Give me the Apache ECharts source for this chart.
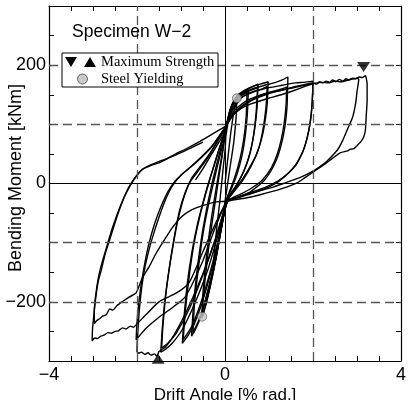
<!DOCTYPE html>
<html>
<head>
<meta charset="utf-8">
<script src="https://cdn.jsdelivr.net/npm/echarts@6/dist/echarts.min.js"></script>
<style>
  html, body { margin: 0; padding: 0; background: #fff; }
  #chart { width: 409px; height: 410px; }
</style>
</head>
<body>
<div id="chart"></div>
<script>
// Drift angle [% rad.] vs bending moment [kNm], one array per loading cycle
const loop025 = [
  [0,0],[0.06,40],[0.13,85],[0.2,120],[0.27,144],[0.25,110],[0.2,70],[0.12,30],[0.04,-10],
  [-0.04,-50],[-0.12,-90],[-0.2,-125],[-0.27,-150],[-0.24,-115],[-0.18,-70],[-0.11,-25],
  [-0.05,20],[0,55],[0.02,80]
];
const loop050a = [
  [0.02,80],[0.1,115],[0.2,138],[0.32,148],[0.43,155],[0.53,158],[0.51,120],[0.46,80],
  [0.38,45],[0.27,15],[0.14,-10],[0.04,-26],[-0.06,-65],[-0.17,-110],[-0.29,-158],
  [-0.41,-198],[-0.52,-228],[-0.49,-190],[-0.42,-140],[-0.34,-90],[-0.25,-45],[-0.16,0],
  [-0.07,45],[0.01,88]
];
const loop050b = [
  [0.01,88],[0.1,118],[0.22,138],[0.35,148],[0.5,154],[0.48,112],[0.42,72],[0.33,38],
  [0.22,10],[0.1,-14],[0.03,-28],[-0.08,-75],[-0.2,-125],[-0.33,-172],[-0.45,-208],
  [-0.53,-226],[-0.5,-185],[-0.43,-130],[-0.35,-80],[-0.26,-35],[-0.16,10],[-0.06,52],[0.02,92]
];
const loop075a = [
  [0.02,92],[0.12,125],[0.25,145],[0.4,154],[0.58,162],[0.75,168],[0.73,130],[0.67,90],
  [0.58,55],[0.45,25],[0.28,0],[0.12,-18],[0.04,-29],[-0.08,-75],[-0.22,-130],[-0.38,-180],
  [-0.55,-225],[-0.68,-248],[-0.76,-258],[-0.72,-210],[-0.64,-150],[-0.54,-95],[-0.43,-48],
  [-0.31,-5],[-0.18,35],[-0.06,70],[0.02,94]
];
const loop075b = [
  [0.02,94],[0.15,128],[0.32,146],[0.52,155],[0.74,162],[0.71,122],[0.65,82],[0.55,46],
  [0.4,16],[0.22,-8],[0.08,-24],[0.03,-30],[-0.1,-82],[-0.26,-140],[-0.44,-195],[-0.6,-232],
  [-0.73,-252],[-0.69,-200],[-0.6,-140],[-0.5,-85],[-0.38,-38],[-0.25,5],[-0.12,45],[0,80],[0.03,95]
];
const loop100a = [
  [0.03,95],[0.13,128],[0.27,148],[0.45,158],[0.7,166],[0.85,169],[0.98,172],[0.96,135],
  [0.9,100],[0.83,75],[0.72,50],[0.58,30],[0.4,8],[0.22,-10],[0.05,-30],[-0.1,-80],
  [-0.28,-138],[-0.48,-192],[-0.7,-238],[-0.85,-258],[-0.97,-270],[-0.93,-225],[-0.85,-165],
  [-0.75,-115],[-0.63,-70],[-0.5,-32],[-0.38,0],[-0.25,30],[-0.1,65],[0.02,95]
];
const loop100b = [
  [0.02,95],[0.18,128],[0.38,146],[0.62,155],[0.85,160],[0.96,164],[0.93,128],[0.86,90],
  [0.76,58],[0.6,30],[0.4,5],[0.2,-14],[0.05,-30],[-0.12,-85],[-0.32,-145],[-0.55,-202],
  [-0.76,-242],[-0.95,-264],[-0.9,-215],[-0.81,-155],[-0.7,-100],[-0.57,-55],[-0.44,-18],
  [-0.3,18],[-0.15,55],[0,88],[0.02,96]
];
const loop150a = [
  [0.02,96],[0.12,125],[0.27,146],[0.55,158],[0.85,165],[1.15,171],[1.3,175],[1.43,180],
  [1.42,155],[1.41,130],[1.37,100],[1.32,79],[1.25,58],[1.17,40],[1.05,22],[0.9,6],
  [0.72,-6],[0.53,-16],[0.3,-23],[0.06,-30],[-0.16,-88],[-0.4,-148],[-0.7,-205],[-0.98,-248],
  [-1.2,-270],[-1.35,-280],[-1.46,-285],[-1.43,-250],[-1.37,-200],[-1.28,-150],[-1.18,-105],
  [-1.08,-65],[-0.97,-32],[-0.86,-8],[-0.75,10],[-0.6,25],[-0.4,45],[-0.2,68],[0.02,95]
];
const loop150b = [
  [0.02,95],[0.2,122],[0.45,138],[0.75,148],[1.05,155],[1.25,159],[1.4,163],[1.39,135],
  [1.35,105],[1.28,75],[1.18,48],[1.05,26],[0.85,6],[0.6,-8],[0.35,-18],[0.15,-25],[0.05,-30],
  [-0.2,-90],[-0.48,-150],[-0.8,-210],[-1.1,-252],[-1.3,-270],[-1.44,-278],[-1.41,-240],
  [-1.34,-185],[-1.24,-130],[-1.14,-85],[-1.04,-48],[-0.92,-18],[-0.8,2],[-0.62,20],
  [-0.35,48],[-0.12,78],[0.02,96]
];
const loop200a = [
  [0.02,96],[0.18,125],[0.38,145],[0.7,156],[1,162],[1.3,166],[1.6,170],[1.8,171],[2,173],
  [1.99,150],[1.97,125],[1.93,100],[1.87,78],[1.8,60],[1.73,48],[1.62,32],[1.5,22],[1.36,12],
  [1.15,0],[0.9,-9],[0.6,-17],[0.3,-24],[0.06,-31],[-0.2,-90],[-0.5,-152],[-0.85,-212],
  [-1.15,-255],[-1.35,-276],[-1.5,-284],[-1.55,-292],[-1.6,-288],[-1.68,-290],[-1.75,-286],
  [-1.82,-289],[-1.9,-285],[-1.96,-287],[-2,-284],[-1.98,-250],[-1.93,-200],[-1.84,-150],
  [-1.72,-110],[-1.58,-75],[-1.42,-40],[-1.28,-15],[-1.16,0],[-1,14],[-0.8,27],[-0.55,44],
  [-0.3,63],[0,95]
];
const loop200b = [
  [0,95],[0.15,113],[0.35,126],[0.53,133],[0.9,142],[1.28,150],[1.6,158],[1.85,165],[2,169],
  [1.98,135],[1.94,105],[1.86,75],[1.76,52],[1.62,33],[1.45,18],[1.2,4],[0.9,-7],[0.55,-16],
  [0.25,-24],[0.05,-30],[-0.2,-70],[-0.5,-130],[-0.9,-191],[-1.2,-210],[-1.5,-226],
  [-1.8,-245],[-1.95,-258],[-2.02,-264],[-2,-235],[-1.95,-195],[-1.86,-150],[-1.74,-105],
  [-1.6,-68],[-1.45,-38],[-1.3,-14],[-1.16,2],[-1,14],[-0.65,36],[-0.3,62],[0,94]
];
const loop300a = [
  [0,94],[0.15,112],[0.3,124],[0.6,140],[1,152],[1.5,161],[1.8,166],[2,169],[2.2,171],
  [2.35,170],[2.5,173],[2.65,172],[2.8,175],[2.92,177],[3,178],[3.04,176],[3,155],[2.97,136],
  [2.9,112],[2.78,91],[2.67,72],[2.56,57],[2.4,44],[2.26,34],[2,21],[1.7,10],[1.4,2],
  [1.1,-6],[0.8,-12],[0.45,-20],[0.2,-26],[0.05,-30],[-0.2,-65],[-0.5,-115],[-0.82,-168],
  [-1.1,-185],[-1.5,-200],[-1.8,-222],[-2.02,-239],[-2.08,-243],[-2.15,-241],[-2.25,-246],
  [-2.33,-244],[-2.42,-249],[-2.5,-250],[-2.58,-253],[-2.66,-252],[-2.74,-256],[-2.82,-258],
  [-2.9,-262],[-2.96,-261],[-3.02,-266],[-3.01,-245],[-2.99,-230],[-2.95,-200],[-2.88,-165],
  [-2.81,-146],[-2.72,-118],[-2.62,-95],[-2.45,-55],[-2.3,-25],[-2.17,-4],[-2,14],[-1.87,24],
  [-1.7,31],[-1.5,37],[-1.3,43],[-1.12,50],[-0.85,60],[-0.6,70],[-0.3,83],[0,96]
];
const loop300b = [
  [0,96],[0.2,118],[0.4,132],[0.7,145],[1,153],[1.3,158],[1.6,164],[1.8,167],[2,170],
  [2.08,168],[2.15,172],[2.22,170],[2.3,173],[2.38,171],[2.45,175],[2.52,172],[2.6,176],
  [2.68,173],[2.75,177],[2.82,175],[2.9,178],[2.97,177],[3.05,180],[3.12,179],[3.19,182],
  [3.23,168],[3.23,140],[3.21,115],[3.19,90],[3.15,78],[3.08,70],[3,64],[2.93,59],[2.85,58],
  [2.78,55],[2.63,52],[2.45,43],[2.25,32],[2,19],[1.8,9],[1.66,2],[1.4,-6],[1.1,-13],
  [0.8,-19],[0.5,-24],[0.25,-27],[0.05,-30],[-0.2,-31],[-0.45,-36],[-0.75,-44],[-1,-57],
  [-1.2,-75],[-1.4,-98],[-1.58,-120],[-1.72,-140],[-1.88,-160],[-2.02,-185],[-2.18,-192],
  [-2.32,-199],[-2.45,-206],[-2.55,-214],[-2.62,-212],[-2.7,-222],[-2.78,-224],[-2.86,-229],
  [-2.92,-232],[-2.97,-237],[-2.97,-215],[-2.94,-190],[-2.88,-160],[-2.8,-135],[-2.7,-110],
  [-2.58,-80],[-2.45,-52],[-2.3,-24],[-2.15,-3],[-2.02,12],[-1.88,24],[-1.7,30],[-1.5,35],
  [-1.25,44],[-1,52],[-0.75,61],[-0.5,70]
];
const finalReload = [[-0.67,6],[-0.5,25],[-0.3,50],[-0.12,72],[0.02,90]];

const maxStrengthPos = [[3.15,197]];
const maxStrengthNeg = [[-1.52,-296]];
const steelYielding = [[0.27,144],[-0.52,-225]];

const xTickLabels = [-4, 0, 4];
const yTickLabels = [-200, 0, 200];
const xGuides = [-2, 2];
const yGuides = [-200, -100, 100, 200];

const loops = [loop025, loop050a, loop050b, loop075a, loop075b, loop100a, loop100b,
  loop150a, loop150b, loop200a, loop200b, loop300a, loop300b, finalReload];

const SANS = '"Liberation Sans", Arial, Helvetica, sans-serif';
const SERIF = '"Liberation Serif", "Times New Roman", serif';
const minus = v => (v < 0 ? '\u2212' + Math.abs(v) : String(v));

const chart = echarts.init(document.getElementById('chart'), null, { renderer: 'canvas' });

const frameLine = { show: true, onZero: false, lineStyle: { color: '#000', width: 1.2 } };
const innerTick = { show: true, inside: true, length: 5, lineStyle: { color: '#000', width: 1 } };

const dashed = { type: [9, 5], color: '#555', width: 1.3 };
const solid = { type: 'solid', color: '#000', width: 1 };

const guideLines = [
  ...xGuides.map(v => ({ xAxis: v, lineStyle: dashed })),
  ...yGuides.map(v => ({ yAxis: v, lineStyle: dashed })),
  { xAxis: 0, lineStyle: solid },
  { yAxis: 0, lineStyle: solid }
];

const option = {
  animation: false,
  backgroundColor: '#fff',
  grid: { left: 49, top: 6, width: 354, height: 355, containLabel: false },
  xAxis: [
    {
      type: 'value', min: -4, max: 4, interval: 0.5, position: 'bottom',
      axisLine: frameLine, axisTick: innerTick, splitLine: { show: false },
      axisLabel: {
        margin: 5, fontSize: 18, fontFamily: SANS, color: '#000',
        formatter: v => (xTickLabels.includes(v) ? minus(v) : '')
      }
    },
    {
      type: 'value', min: -4, max: 4, interval: 0.5, position: 'top',
      axisLine: frameLine, axisTick: innerTick, splitLine: { show: false },
      axisLabel: { show: false }
    }
  ],
  yAxis: [
    {
      type: 'value', min: -300, max: 300, interval: 50, position: 'left',
      axisLine: frameLine, axisTick: innerTick, splitLine: { show: false },
      axisLabel: {
        margin: 3, fontSize: 18, fontFamily: SANS, color: '#000',
        formatter: v => (yTickLabels.includes(v) ? minus(v) : '')
      }
    },
    {
      type: 'value', min: -300, max: 300, interval: 50, position: 'right',
      axisLine: frameLine, axisTick: innerTick, splitLine: { show: false },
      axisLabel: { show: false }
    }
  ],
  series: [
    {
      type: 'line', data: [], silent: true, z: 1,
      markLine: { silent: true, symbol: 'none', animation: false, label: { show: false }, data: guideLines }
    },
    ...loops.map(d => ({
      type: 'line', data: d, showSymbol: false, silent: true, z: 3,
      lineStyle: { color: '#000', width: 1.4 }, smooth: 0.2
    })),
    {
      type: 'scatter', data: maxStrengthPos, symbol: 'triangle', symbolRotate: 180,
      symbolSize: [13, 10], itemStyle: { color: '#000' }, z: 5, silent: true
    },
    {
      type: 'scatter', data: maxStrengthNeg, symbol: 'triangle',
      symbolSize: [13, 10], itemStyle: { color: '#000' }, z: 5, silent: true
    },
    {
      type: 'scatter', data: steelYielding, symbol: 'circle', symbolSize: 9,
      itemStyle: { color: '#c8c8c8', borderColor: '#444', borderWidth: 0.8 }, z: 5, silent: true
    }
  ],
  graphic: [
    {
      type: 'text', x: 72, y: 32, z: 10,
      style: { text: 'Specimen W\u22122', font: '17.5px ' + SANS, fill: '#000', textVerticalAlign: 'middle' }
    },
    {
      type: 'rect', z: 10, shape: { x: 62, y: 53, width: 156, height: 34 },
      style: { fill: '#fff', stroke: '#000', lineWidth: 1 }
    },
    {
      type: 'polygon', z: 11, shape: { points: [[65, 57], [77, 57], [71, 67]] }, style: { fill: '#000' }
    },
    {
      type: 'polygon', z: 11, shape: { points: [[84, 67], [96, 67], [90, 57]] }, style: { fill: '#000' }
    },
    {
      type: 'circle', z: 11, shape: { cx: 82.5, cy: 79, r: 5 },
      style: { fill: '#c8c8c8', stroke: '#444', lineWidth: 0.8 }
    },
    {
      type: 'text', x: 101, y: 62, z: 11,
      style: { text: 'Maximum Strength', font: '14.5px ' + SERIF, fill: '#000', textVerticalAlign: 'middle' }
    },
    {
      type: 'text', x: 101, y: 79, z: 11,
      style: { text: 'Steel Yielding', font: '14.5px ' + SERIF, fill: '#000', textVerticalAlign: 'middle' }
    },
    {
      type: 'text', x: 16, y: 178, rotation: Math.PI / 2, z: 10,
      style: { text: 'Bending Moment [kNm]', font: '18px ' + SANS, fill: '#000', textAlign: 'center', textVerticalAlign: 'middle' }
    },
    {
      type: 'text', x: 225, y: 395, z: 10,
      style: { text: 'Drift Angle [% rad.]', font: '17px ' + SANS, fill: '#000', textAlign: 'center', textVerticalAlign: 'middle' }
    },
    {
      type: 'rect', z: 20, shape: { x: 0, y: 400, width: 409, height: 10 }, style: { fill: '#fff' }
    }
  ]
};

chart.setOption(option);
</script>
</body>
</html>
